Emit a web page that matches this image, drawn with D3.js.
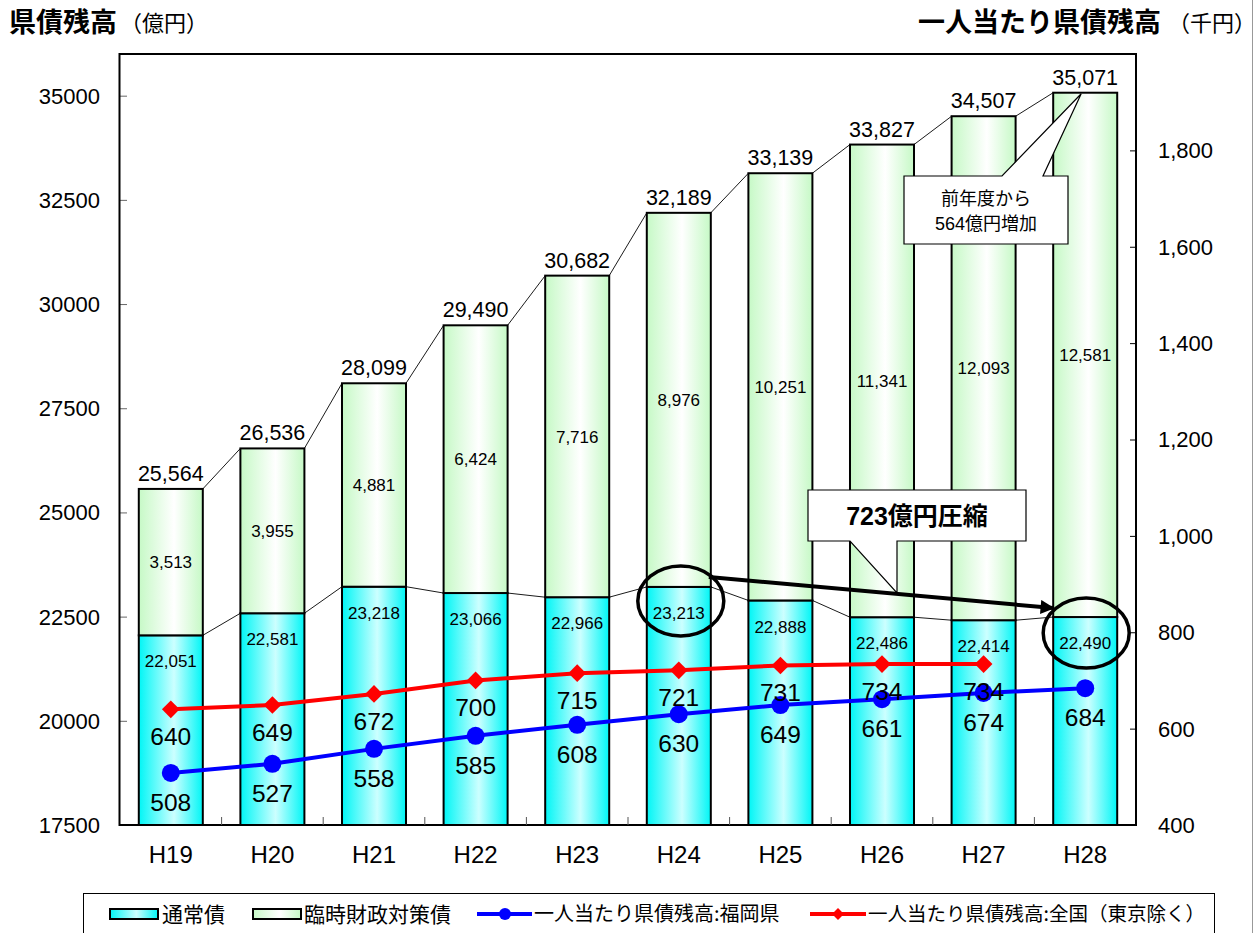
<!DOCTYPE html>
<html><head><meta charset="utf-8">
<script src="https://cdn.jsdelivr.net/npm/d3@7"></script>
<style>
html,body{margin:0;padding:0;background:#fff;}
svg{display:block;font-family:"Liberation Sans","Noto Sans CJK JP",sans-serif;}
</style></head>
<body>
<svg id="chart" width="1256" height="933"></svg>
<script>
// ---- data ----
const categories = ["H19","H20","H21","H22","H23","H24","H25","H26","H27","H28"];
const regularBonds = [22051,22581,23218,23066,22966,23213,22888,22486,22414,22490]; // 通常債
const specialBonds = [3513,3955,4881,6424,7716,8976,10251,11341,12093,12581];      // 臨時財政対策債
const totals = [25564,26536,28099,29490,30682,32189,33139,33827,34507,35071];
const perCapitaFukuoka = [508,527,558,585,608,630,649,661,674,684];
const perCapitaNational = [640,649,672,700,715,721,731,734,734,null];
const leftTicks = [17500,20000,22500,25000,27500,30000,32500,35000];
const rightTicks = [400,600,800,1000,1200,1400,1600,1800];
const legendLabels = ["通常債","臨時財政対策債","一人当たり県債残高:福岡県","一人当たり県債残高:全国（東京除く）"];

// ---- layout ----
const svg = d3.select("#chart");
const L = 120, R = 1136, T = 54, B = 825;
const x = d3.scaleBand().domain(categories).range([L, R]).paddingInner(0.37).paddingOuter(0.185);
const yL = d3.scaleLinear().domain([17500, 36000]).range([B, T]);
const yR = d3.scaleLinear().domain([400, 2000]).range([B, T]);
const bw = x.bandwidth();
const cx = c => x(c) + bw / 2;

// gradients
const defs = svg.append("defs");
function hGrad(id, edge, mid) {
  const g = defs.append("linearGradient").attr("id", id).attr("x1", "0%").attr("x2", "100%").attr("y1", "0%").attr("y2", "0%");
  g.append("stop").attr("offset", "0%").attr("stop-color", edge);
  g.append("stop").attr("offset", "55%").attr("stop-color", mid);
  g.append("stop").attr("offset", "100%").attr("stop-color", edge);
}
hGrad("gCyan", "#00f6f6", "#ccffff");
hGrad("gGreen", "#c6f9c6", "#ffffff");

// page border line at right
svg.append("line").attr("x1", 1252.5).attr("x2", 1252.5).attr("y1", 0).attr("y2", 933).attr("stroke", "#999").attr("stroke-width", 1);

// titles
svg.append("text").attr("x", 9).attr("y", 32).attr("font-size", 27).attr("font-weight", "bold")
  .attr("font-family", "Noto Sans CJK JP").text("県債残高");
svg.append("text").attr("x", 120).attr("y", 31).attr("font-size", 22)
  .attr("font-family", "Noto Sans CJK JP").text("（億円）");
svg.append("text").attr("x", 1161).attr("y", 32).attr("font-size", 27).attr("font-weight", "bold")
  .attr("text-anchor", "end").attr("font-family", "Noto Sans CJK JP").text("一人当たり県債残高");
svg.append("text").attr("x", 1256).attr("y", 31).attr("font-size", 22)
  .attr("text-anchor", "end").attr("font-family", "Noto Sans CJK JP").text("（千円）");

// bars
const bars = svg.append("g");
categories.forEach((c, i) => {
  bars.append("rect").attr("x", x(c)).attr("width", bw)
    .attr("y", yL(regularBonds[i])).attr("height", yL(17500) - yL(regularBonds[i]))
    .attr("fill", "url(#gCyan)").attr("stroke", "#000").attr("stroke-width", 2);
  bars.append("rect").attr("x", x(c)).attr("width", bw)
    .attr("y", yL(totals[i])).attr("height", yL(regularBonds[i]) - yL(totals[i]))
    .attr("fill", "url(#gGreen)").attr("stroke", "#000").attr("stroke-width", 2);
});

// series lines
const sl = svg.append("g").attr("stroke", "#000").attr("stroke-width", 0.9);
for (let i = 0; i < categories.length - 1; i++) {
  const a = categories[i], b = categories[i + 1];
  sl.append("line").attr("x1", x(a) + bw).attr("y1", yL(totals[i])).attr("x2", x(b)).attr("y2", yL(totals[i + 1]));
  sl.append("line").attr("x1", x(a) + bw).attr("y1", yL(regularBonds[i])).attr("x2", x(b)).attr("y2", yL(regularBonds[i + 1]));
}

// frame & axes
svg.append("line").attr("x1", L - 1).attr("x2", R + 1).attr("y1", T).attr("y2", T).attr("stroke", "#000").attr("stroke-width", 2);
const axL = svg.append("g").attr("transform", `translate(${L},0)`)
  .call(d3.axisRight(yL).tickValues(leftTicks).tickSize(7).tickFormat(d3.format("d")));
axL.selectAll("text").remove();
axL.select(".domain").remove();
axL.selectAll("line").attr("stroke", "#666");
svg.append("line").attr("x1", L - 0.5).attr("x2", L - 0.5).attr("y1", T - 1).attr("y2", B + 1).attr("stroke", "#000").attr("stroke-width", 2);
leftTicks.forEach(v => {
  svg.append("text").attr("x", 100).attr("y", yL(v)).attr("dy", "0.36em").attr("text-anchor", "end")
    .attr("font-size", 22).text(d3.format("d")(v));
});
const axR = svg.append("g").attr("transform", `translate(${R},0)`)
  .call(d3.axisLeft(yR).tickValues(rightTicks).tickSize(6));
axR.selectAll("text").remove();
axR.select(".domain").remove();
axR.selectAll("line").attr("stroke", "#000");
svg.append("line").attr("x1", R).attr("x2", R).attr("y1", T - 1).attr("y2", B + 1).attr("stroke", "#000").attr("stroke-width", 2);
rightTicks.forEach(v => {
  svg.append("text").attr("x", 1158).attr("y", yR(v)).attr("dy", "0.36em").attr("text-anchor", "start")
    .attr("font-size", 22).text(d3.format(",")(v));
});
// x axis
svg.append("line").attr("x1", L - 1).attr("x2", R + 1).attr("y1", B).attr("y2", B).attr("stroke", "#000").attr("stroke-width", 2);
categories.slice(1).forEach(c => {
  const xx = x(c) - x.step() * x.paddingInner() / 2;
  svg.append("line").attr("x1", xx).attr("x2", xx).attr("y1", B).attr("y2", B - 8).attr("stroke", "#555");
});
categories.forEach(c => {
  svg.append("text").attr("x", cx(c)).attr("y", 863).attr("text-anchor", "middle").attr("font-size", 24).text(c);
});

// bar labels
const fmt = d3.format(",");
categories.forEach((c, i) => {
  svg.append("text").attr("x", cx(c)).attr("y", yL(totals[i]) - 8).attr("text-anchor", "middle")
    .attr("font-size", 21.5).text(fmt(totals[i]));
  svg.append("text").attr("x", cx(c)).attr("y", (yL(totals[i]) + yL(regularBonds[i])) / 2).attr("dy", "0.36em")
    .attr("text-anchor", "middle").attr("font-size", 17).text(fmt(specialBonds[i]));
  svg.append("text").attr("x", cx(c)).attr("y", yL(regularBonds[i]) + 26).attr("dy", "0.36em")
    .attr("text-anchor", "middle").attr("font-size", 17).text(fmt(regularBonds[i]));
});

// lines
const natData = categories.map((c, i) => ({c, v: perCapitaNational[i]})).filter(d => d.v != null);
const fukData = categories.map((c, i) => ({c, v: perCapitaFukuoka[i]}));
const lineGen = d3.line().x(d => cx(d.c)).y(d => yR(d.v));
svg.append("path").datum(natData).attr("d", lineGen).attr("fill", "none").attr("stroke", "#ff0000").attr("stroke-width", 4);
svg.selectAll(".dia").data(natData).enter().append("path")
  .attr("d", d3.symbol().type(d3.symbolDiamond2).size(200))
  .attr("transform", d => `translate(${cx(d.c)},${yR(d.v)})`)
  .attr("fill", "#ff0000");
svg.append("path").datum(fukData).attr("d", lineGen).attr("fill", "none").attr("stroke", "#0000ff").attr("stroke-width", 4);
svg.selectAll(".dot").data(fukData).enter().append("circle")
  .attr("cx", d => cx(d.c)).attr("cy", d => yR(d.v)).attr("r", 9).attr("fill", "#0000ff");
natData.forEach(d => {
  svg.append("text").attr("x", cx(d.c)).attr("y", yR(d.v) + 27).attr("dy", "0.36em").attr("text-anchor", "middle")
    .attr("font-size", 24.5).text(d.v);
});
fukData.forEach(d => {
  svg.append("text").attr("x", cx(d.c)).attr("y", yR(d.v) + 29).attr("dy", "0.36em").attr("text-anchor", "middle")
    .attr("font-size", 24.5).text(d.v);
});

// ellipses and arrow
const e1 = {x: cx("H24") + 2, y: yL(regularBonds[5]) + 14};
const e2 = {x: cx("H28") + 1, y: yL(regularBonds[9]) + 16};
[e1, e2].forEach(e => svg.append("ellipse").attr("cx", e.x).attr("cy", e.y).attr("rx", 43).attr("ry", 35)
  .attr("fill", "none").attr("stroke", "#000").attr("stroke-width", 3.5));
defs.append("marker").attr("id", "arr").attr("viewBox", "0 0 10 10").attr("refX", 9).attr("refY", 5)
  .attr("markerWidth", 4).attr("markerHeight", 3.5).attr("orient", "auto").attr("markerUnits", "strokeWidth")
  .append("path").attr("d", "M0,0 L10,5 L0,10 Z").attr("fill", "#000");
svg.append("line").attr("x1", e1.x + 28).attr("y1", e1.y - 24).attr("x2", e2.x - 33).attr("y2", e2.y - 25)
  .attr("stroke", "#000").attr("stroke-width", 4).attr("marker-end", "url(#arr)");

// callout 723億円圧縮
const c1 = svg.append("g");
const tip1 = {x: cx("H26") + 14, y: 593};
c1.append("path").attr("d", `M808,490 H1026 V541 H${tip1.x + 1} V${tip1.y} L850,541 H808 Z`)
  .attr("fill", "#fff").attr("stroke", "#000").attr("stroke-width", 1.2);
c1.append("text").attr("x", 917).attr("y", 516).attr("dy", "0.36em").attr("text-anchor", "middle")
  .attr("font-size", 25).attr("font-weight", "bold").text("723億円圧縮");

// callout 前年度から
const c2 = svg.append("g");
const tip2 = {x: cx("H28") - 4, y: yL(totals[9]) + 1};
c2.append("path").attr("d", `M904,176 H1002 L${tip2.x},${tip2.y} L1043,176 H1068 V244 H904 Z`)
  .attr("fill", "#fff").attr("stroke", "#000").attr("stroke-width", 1.2);
c2.append("text").attr("x", 986).attr("y", 199).attr("dy", "0.36em").attr("text-anchor", "middle")
  .attr("font-size", 18).text("前年度から");
c2.append("text").attr("x", 986).attr("y", 224).attr("dy", "0.36em").attr("text-anchor", "middle")
  .attr("font-size", 18).text("564億円増加");

// legend
const lg = svg.append("g");
lg.append("rect").attr("x", 83.5).attr("y", 893.5).attr("width", 1131).attr("height", 50).attr("fill", "#fff").attr("stroke", "#000").attr("stroke-width", 1);
const ly = 914;
lg.append("rect").attr("x", 110).attr("y", ly - 5).attr("width", 48).attr("height", 10).attr("fill", "url(#gCyan)").attr("stroke", "#000").attr("stroke-width", 2);
lg.append("rect").attr("x", 253).attr("y", ly - 5).attr("width", 48).attr("height", 10).attr("fill", "url(#gGreen)").attr("stroke", "#000").attr("stroke-width", 2);
lg.append("line").attr("x1", 477).attr("x2", 532).attr("y1", ly).attr("y2", ly).attr("stroke", "#0000ff").attr("stroke-width", 4);
lg.append("circle").attr("cx", 505).attr("cy", ly).attr("r", 6).attr("fill", "#0000ff");
lg.append("line").attr("x1", 810).attr("x2", 866).attr("y1", ly).attr("y2", ly).attr("stroke", "#ff0000").attr("stroke-width", 4);
lg.append("path").attr("d", d3.symbol().type(d3.symbolDiamond2).size(90)).attr("transform", `translate(838,${ly})`).attr("fill", "#ff0000");
const lx = [162, 304, 534, 868];
const ls = [21, 21, 20, 19.5];
legendLabels.forEach((t, i) => {
  lg.append("text").attr("x", lx[i]).attr("y", ly).attr("dy", "0.36em").attr("font-size", ls[i])
    .attr("font-family", "Noto Sans CJK JP").text(t);
});
</script>
</body></html>
